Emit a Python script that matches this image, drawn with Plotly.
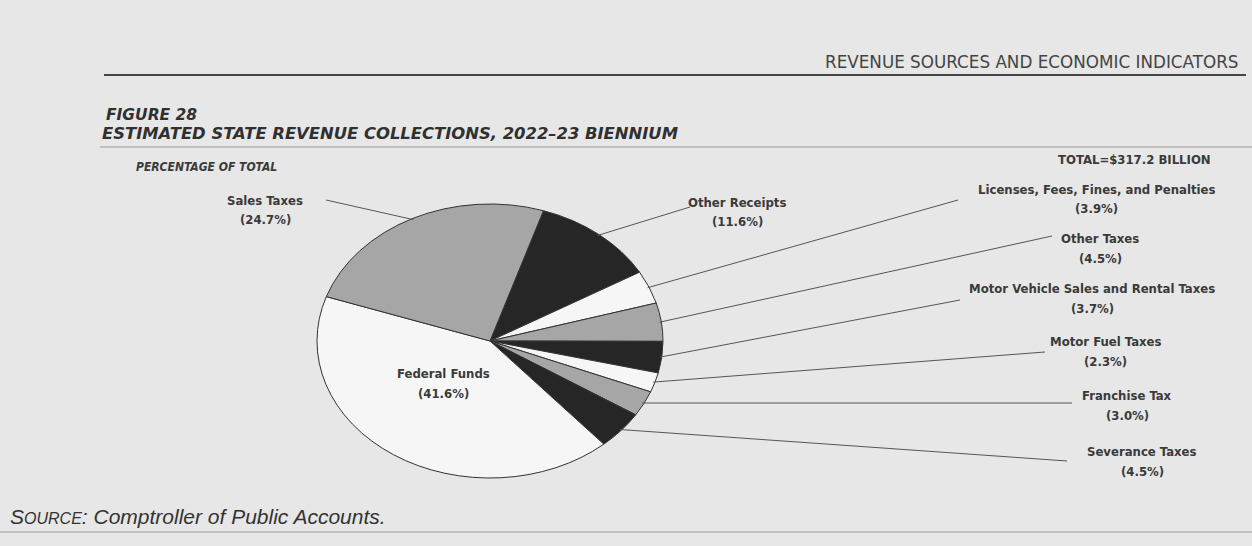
import math
import plotly.graph_objects as go

# ---------------- data ----------------
categories = ["Other Receipts", "Licenses, Fees, Fines, and Penalties", "Other Taxes",
              "Motor Vehicle Sales and Rental Taxes", "Motor Fuel Taxes", "Franchise Tax",
              "Severance Taxes", "Federal Funds", "Sales Taxes"]
percentages = [11.6, 3.9, 4.5, 3.7, 2.3, 3.0, 4.5, 41.6, 24.7]
pct_labels = ["(11.6%)", "(3.9%)", "(4.5%)", "(3.7%)", "(2.3%)", "(3.0%)", "(4.5%)", "(41.6%)", "(24.7%)"]
total_label = "TOTAL=$317.2 BILLION"

# ---------------- style / layout ----------------
W, H = 1252, 546
DARK, GRAY, WHITE = "#262626", "#a6a6a6", "#f6f6f6"
slice_colors = [DARK, WHITE, GRAY, DARK, WHITE, GRAY, DARK, WHITE, GRAY]
CX, CY, R = 490, 341, 173          # pie centre / horizontal radius in px
S = 0.792                          # vertical squash (printed pie is drawn in perspective)
ROT = 18                           # first slice starts 18 deg clockwise from 12 o'clock
TXT = "#3a3a3a"
LFONT = "DejaVu Sans Condensed"

# label block centres (px) and leader-line end points (px); None = no leader line
label_pos = [(737, 202, 221), (1096, 189, 208), (1100, 238, 258), (1092, 288, 308),
             (1105, 341, 361), (1127, 395, 415), (1142, 451, 471), (443, 373, 393), (265, 200, 219)]
line_ends = [(690, 207), (958, 200), (1052, 236), (960, 300), (1045, 352), (1072, 403),
             (1067, 461), None, (326, 200)]


def px(x):
    return x / W


def py(y):
    return 1 - y / H


fig = go.Figure(go.Pie(
    labels=categories, values=percentages, sort=False, direction="clockwise",
    rotation=ROT, marker=dict(colors=slice_colors, line=dict(color="#333333", width=1)),
    textinfo="none", hoverinfo="label+percent", showlegend=False,
    domain=dict(x=[px(CX - R), px(CX + R)], y=[py(CY + R), py(CY - R)]),
))

shapes = []
annotations = []
total = sum(percentages)
ang = ROT
for i, v in enumerate(percentages):
    span = 360 * v / total
    mid = math.radians(ang + span / 2)
    ang += span
    lx, name_y, pct_y = label_pos[i]
    for txt, yy in ((categories[i], name_y), (pct_labels[i], pct_y)):
        annotations.append(dict(x=px(lx), y=py(yy), xref="paper", yref="paper", text=txt,
                                showarrow=False, xanchor="center", yanchor="middle",
                                font=dict(family=LFONT, size=13, color=TXT, weight="bold")))
    if line_ends[i] is not None:
        sx = CX + 0.99 * R * math.sin(mid)
        sy = CY - 0.99 * R * math.cos(mid) * S
        ex, ey = line_ends[i]
        shapes.append(dict(type="line", xref="paper", yref="paper", x0=px(sx), y0=py(sy),
                           x1=px(ex), y1=py(ey), line=dict(color="#555555", width=1)))

# page furniture
shapes += [
    dict(type="line", xref="paper", yref="paper", x0=px(104), x1=px(1246), y0=py(75), y1=py(75),
         line=dict(color="#444444", width=2)),
    dict(type="line", xref="paper", yref="paper", x0=px(100), x1=px(1252), y0=py(147), y1=py(147),
         line=dict(color="#9a9a9a", width=1)),
    dict(type="line", xref="paper", yref="paper", x0=0, x1=1, y0=py(532), y1=py(532),
         line=dict(color="#9a9a9a", width=1)),
]
annotations += [
    dict(x=px(1241), y=py(62), xref="paper", yref="paper", xanchor="right", yanchor="middle",
         text="REVENUE SOURCES AND ECONOMIC INDICATORS", showarrow=False,
         font=dict(family="DejaVu Sans", size=16.8, color="#444444")),
    dict(x=px(104), y=py(115), xref="paper", yref="paper", xanchor="left", yanchor="middle",
         text="FIGURE 28", showarrow=False,
         font=dict(family="DejaVu Sans", size=15.5, color="#303030", weight="bold", style="italic")),
    dict(x=px(100), y=py(133), xref="paper", yref="paper", xanchor="left", yanchor="middle",
         text="ESTIMATED STATE REVENUE COLLECTIONS, 2022\u201323 BIENNIUM", showarrow=False,
         font=dict(family="DejaVu Sans", size=16.4, color="#303030", weight="bold", style="italic")),
    dict(x=px(134), y=py(167), xref="paper", yref="paper", xanchor="left", yanchor="middle",
         text="PERCENTAGE OF TOTAL", showarrow=False,
         font=dict(family=LFONT, size=12, color=TXT, weight="bold", style="italic")),
    dict(x=px(1213), y=py(159), xref="paper", yref="paper", xanchor="right", yanchor="middle",
         text=total_label, showarrow=False,
         font=dict(family=LFONT, size=13, color=TXT, weight="bold")),
    dict(x=px(8), y=py(516), xref="paper", yref="paper", xanchor="left", yanchor="middle",
         text="S<span style='font-size:16px'>OURCE</span>: Comptroller of Public Accounts.",
         showarrow=False,
         font=dict(family="Liberation Sans", size=21, color="#333333", style="italic")),
]

fig.update_layout(
    width=W, height=H, margin=dict(l=0, r=0, t=0, b=0),
    paper_bgcolor="#e7e7e7", plot_bgcolor="#e7e7e7",
    shapes=shapes, annotations=annotations,
)

# squash the pie vertically about its centre so it appears as the printed ellipse
post = """
var gd = document.getElementById('{plot_id}');
var layer = gd.querySelector('.pielayer');
if (layer) {
  layer.setAttribute('transform', 'translate(0,%.3f) scale(1,%.4f)');
  layer.querySelectorAll('path').forEach(function(p){ p.style.vectorEffect = 'non-scaling-stroke'; });
}
""" % (CY * (1 - S), S)

fig.write_html("out.html", post_script=post)
